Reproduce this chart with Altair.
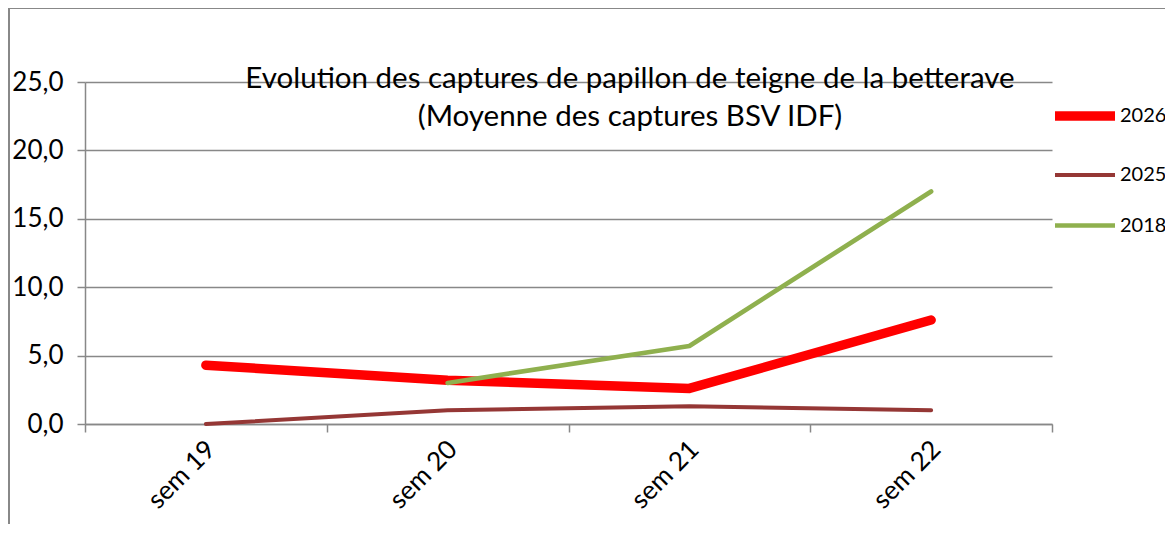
import altair as alt
import pandas as pd

weeks = ["sem 19", "sem 20", "sem 21", "sem 22"]
series = ["2026", "2025", "2018"]
v2026 = [4.3, 3.2, 2.6, 7.6]
v2025 = [0.0, 1.0, 1.3, 1.0]
v2018 = [None, 3.0, 5.7, 17.0]
colors = ["#FF0000", "#953735", "#8FB04E"]
widths = [9.5, 4, 4.7]
y_ticks = [0, 5, 10, 15, 20, 25]
title_lines = ["Evolution des captures de papillon de teigne de la betterave",
               "(Moyenne des captures BSV IDF)"]

rows = []
for name, vals in zip(series, [v2026, v2025, v2018]):
    for w, v in zip(weeks, vals):
        if v is not None:
            rows.append({"sem": w, "serie": name, "val": v})
df = pd.DataFrame(rows)

FONT = "Lato"
GRID = "#888888"

x_enc = alt.X("sem:N", sort=weeks, title=None,
              scale=alt.Scale(type="band", paddingInner=0, paddingOuter=0),
              axis=alt.Axis(tickBand="extent", labelAngle=-45, labelAlign="right",
                            labelBaseline="middle", labelPadding=13, labelOffset=5, tickSize=8,
                            domainColor=GRID, tickColor=GRID, domainWidth=1.5, tickWidth=1.5,
                            labelFont=FONT, labelFontSize=26, labelColor="black", grid=False))
y_enc = alt.Y("val:Q", title=None,
              scale=alt.Scale(domain=[0, 25], nice=False, zero=True),
              axis=alt.Axis(values=y_ticks, labelExpr="replace(format(datum.value, '.1f'), '.', ',')",
                            grid=True, gridColor=GRID, gridWidth=1.5, tickSize=8,
                            domainColor=GRID, tickColor=GRID, domainWidth=1.5, tickWidth=1.5,
                            labelFont=FONT, labelFontSize=26, labelColor="black", labelPadding=14))

legend = alt.Legend(title=None, orient="none", legendX=965, legendY=-1, symbolType="stroke",
                    symbolSize=3600, labelFont=FONT, labelFontSize=20, labelColor="black",
                    rowPadding=8, padding=0, labelOffset=0)
color_enc = alt.Color("serie:N", scale=alt.Scale(domain=series, range=colors), legend=legend)
sw_enc = alt.StrokeWidth("serie:N", scale=alt.Scale(type="ordinal", domain=series, range=widths),
                         legend=legend)

frame = alt.Chart(pd.DataFrame({"a": [0]})).mark_rect(
    fillOpacity=0, stroke=GRID, strokeWidth=2
).encode(x=alt.value(-76), x2=alt.value(1300), y=alt.value(-74), y2=alt.value(700))

layers = [frame]
for s in series:
    layers.append(
        alt.Chart(df).transform_filter(alt.datum.serie == s)
        .mark_line(strokeCap="round", strokeJoin="round")
        .encode(x=x_enc, y=y_enc, color=color_enc, strokeWidth=sw_enc)
    )

t1 = alt.Chart(pd.DataFrame({"t": [title_lines[0]]})).mark_text(
    font=FONT, fontSize=29.5, color="black", align="center", baseline="middle"
).encode(text="t:N", x=alt.value(545), y=alt.value(-3))
t2 = alt.Chart(pd.DataFrame({"t": [title_lines[1]]})).mark_text(
    font=FONT, fontSize=29.5, color="black", align="center", baseline="middle"
).encode(text="t:N", x=alt.value(545), y=alt.value(35))
layers += [t1, t2]

chart = alt.layer(*layers).properties(
    width=967, height=342,
    autosize=alt.AutoSizeParams(type="none"),
    padding={"left": 77, "top": 74, "right": 113, "bottom": 100},
).configure_view(stroke=None)

chart.save("out.html", embed_options={"renderer": "svg", "actions": False})
